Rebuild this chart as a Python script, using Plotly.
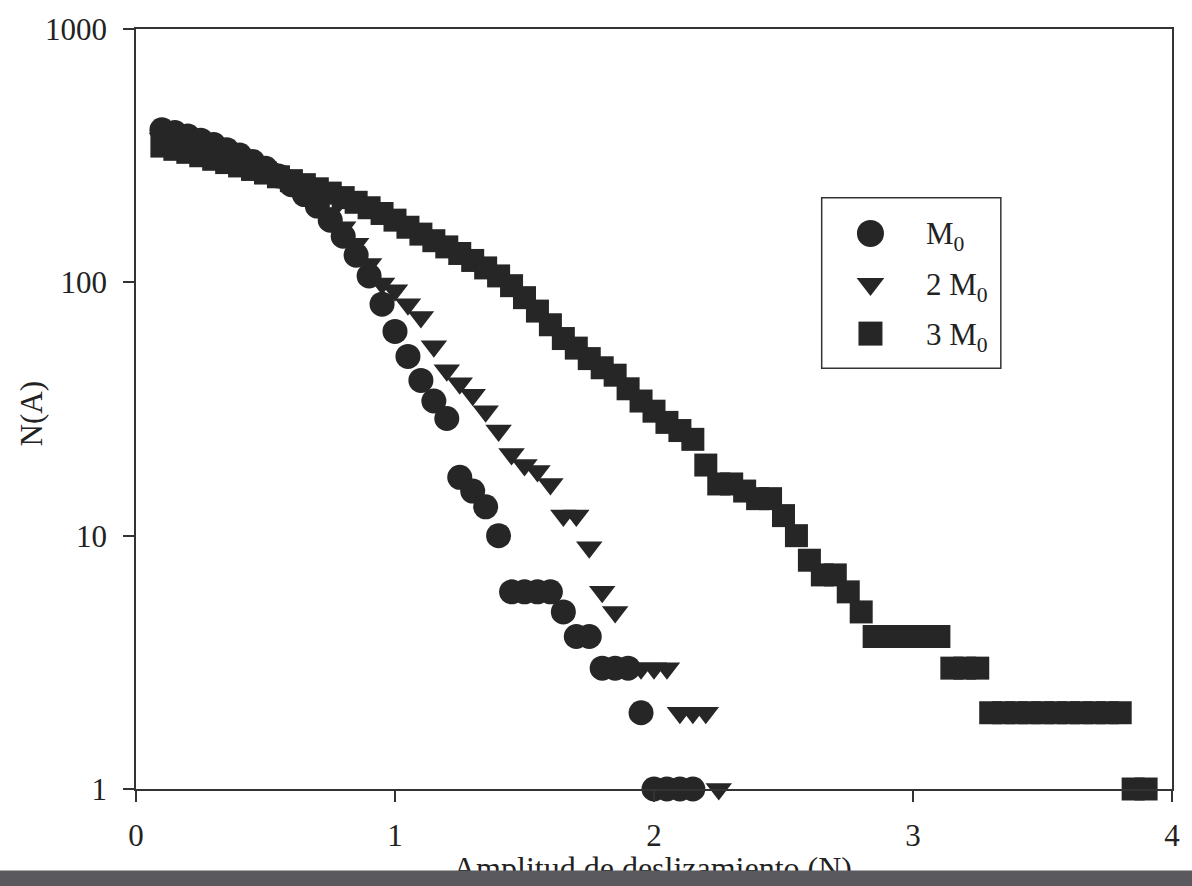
import plotly.graph_objects as go

# ---------------- data ----------------
x_m0 = [0.10, 0.15, 0.20, 0.25, 0.30, 0.35, 0.40, 0.45, 0.50, 0.55,
        0.60, 0.65, 0.70, 0.75, 0.80, 0.85, 0.90, 0.95, 1.00, 1.05,
        1.10, 1.15, 1.20, 1.25, 1.30, 1.35, 1.40, 1.45, 1.50, 1.55,
        1.60, 1.65, 1.70, 1.75, 1.80, 1.85, 1.90, 1.95, 2.00, 2.05,
        2.10, 2.15]
n_m0 = [400, 390, 378, 364, 350, 334, 318, 300, 282, 263,
        243, 222, 200, 176, 152, 128, 106, 82, 64, 51,
        41, 34, 29, 17, 15, 13, 10, 6, 6, 6,
        6, 5, 4, 4, 3, 3, 3, 2, 1, 1,
        1, 1]

x_2m0 = [0.10, 0.15, 0.20, 0.25, 0.30, 0.35, 0.40, 0.45, 0.50, 0.55,
         0.60, 0.65, 0.70, 0.75, 0.80, 0.85, 0.90, 0.95, 1.00, 1.05,
         1.10, 1.15, 1.20, 1.25, 1.30, 1.35, 1.40, 1.45, 1.50, 1.55,
         1.60, 1.65, 1.70, 1.75, 1.80, 1.85, 1.90, 1.95, 2.00, 2.05,
         2.10, 2.15, 2.20, 2.25]
n_2m0 = [370, 362, 353, 343, 333, 322, 310, 296, 281, 265,
         248, 230, 210, 188, 165, 142, 118, 99, 93, 82,
         73, 56, 45, 40, 36, 31, 26, 21, 19, 18,
         16, 12, 12, 9, 6, 5, 3, 3, 3, 3,
         2, 2, 2, 1]

x_3m0 = [0.10, 0.15, 0.20, 0.25, 0.30, 0.35, 0.40, 0.45, 0.50, 0.55,
         0.60, 0.65, 0.70, 0.75, 0.80, 0.85, 0.90, 0.95, 1.00, 1.05,
         1.10, 1.15, 1.20, 1.25, 1.30, 1.35, 1.40, 1.45, 1.50, 1.55,
         1.60, 1.65, 1.70, 1.75, 1.80, 1.85, 1.90, 1.95, 2.00, 2.05,
         2.10, 2.15, 2.20, 2.25, 2.30, 2.35, 2.40, 2.45, 2.50, 2.55,
         2.60, 2.65, 2.70, 2.75, 2.80, 2.85, 2.90, 2.95, 3.00, 3.05,
         3.10, 3.15, 3.20, 3.25, 3.30, 3.35, 3.40, 3.45, 3.50, 3.55,
         3.60, 3.65, 3.70, 3.75, 3.80, 3.85, 3.90]
n_3m0 = [345, 335, 326, 316, 306, 297, 288, 279, 270, 261,
         252, 243, 234, 225, 216, 207, 197, 187, 176, 165,
         155, 146, 138, 130, 122, 114, 106, 97, 87, 77,
         68, 60, 55, 50, 46, 43, 38, 34, 31, 28,
         26, 24, 19, 16, 16, 15, 14, 14, 12, 10,
         8, 7, 7, 6, 5, 4, 4, 4, 4, 4,
         4, 3, 3, 3, 2, 2, 2, 2, 2, 2,
         2, 2, 2, 2, 2, 1, 1]

series_names = ["M<sub>0</sub>", "2 M<sub>0</sub>", "3 M<sub>0</sub>"]
x_ticks = [0, 1, 2, 3, 4]
x_ticktext = ["0", "1", "2", "3", "4"]
y_ticks = [1, 10, 100, 1000]
y_ticktext = ["1", "10", "100", "1000"]
x_title = "Amplitud de deslizamiento (N)"
y_title = "N(A)"

# ---------------- style ----------------
W, H = 1192, 886
L, R, T, B = 136, 15, 23, 97
PW, PH = W - L - R, H - T - B
FONT = "Liberation Serif"
INK = "#262626"
TXT = "#222222"
AX = "#333333"
FS = 31


def px_x(p):
    return (p - L) / PW


def px_y(p):
    return (H - B - p) / PH


fig = go.Figure()
symbols = ["circle", "triangle-down", "square"]
sizes = [25, 23, 23]
data = [(x_m0, n_m0), (x_2m0, n_2m0), (x_3m0, n_3m0)]
for (xs, ys), sym, sz, nm in zip(data, symbols, sizes, series_names):
    fig.add_trace(go.Scatter(
        x=xs, y=ys, mode="markers", name=nm, showlegend=False,
        marker=dict(symbol=sym, size=sz, color=INK, line=dict(width=0)),
        cliponaxis=False,
    ))

# custom legend (key markers on an overlay pixel axis)
leg_key_x = 874
leg_key_y = [229, 280, 330]
leg_key_size = [27, 24, 24]
for sym, sz, ky, nm in zip(symbols, leg_key_size, leg_key_y, series_names):
    fig.add_trace(go.Scatter(
        x=[leg_key_x - L], y=[H - B - ky], xaxis="x2", yaxis="y2",
        mode="markers", showlegend=False, hoverinfo="skip",
        marker=dict(symbol=sym, size=sz, color=INK, line=dict(width=0)),
    ))

annotations = []
for ky, nm in zip(leg_key_y, series_names):
    annotations.append(dict(
        x=px_x(928), y=px_y(ky + 3), xref="paper", yref="paper",
        xanchor="left", yanchor="middle", showarrow=False, text=nm,
        font=dict(family=FONT, size=FS, color=TXT)))

# axis titles
annotations.append(dict(
    x=px_x(31), y=px_y(411), xref="paper", yref="paper", textangle=-90,
    xanchor="center", yanchor="middle", showarrow=False, text=y_title,
    font=dict(family=FONT, size=FS, color=TXT)))
annotations.append(dict(
    x=px_x(655), y=px_y(869), xref="paper", yref="paper",
    xanchor="center", yanchor="middle", showarrow=False, text=x_title,
    font=dict(family=FONT, size=FS + 1, color=TXT)))
# dark scan band at the bottom edge
annotations.append(dict(
    x=0.5, y=px_y(871), xref="paper", yref="paper",
    xanchor="center", yanchor="top", showarrow=False, text=" ",
    width=1500, height=40, borderpad=0, bgcolor="#5a5a5e",
    font=dict(size=4)))

shapes = [dict(
    type="rect", xref="paper", yref="paper",
    x0=px_x(825), x1=px_x(1005), y0=px_y(365), y1=px_y(193),
    line=dict(color=AX, width=1.5), fillcolor="rgba(0,0,0,0)", layer="above")]

axis_common = dict(
    showline=True, linecolor=AX, linewidth=1.5, mirror=True,
    ticks="outside", ticklen=11, tickwidth=1.5, tickcolor=AX,
    showgrid=False, zeroline=False,
    tickfont=dict(family=FONT, size=FS, color=TXT),
)

fig.update_layout(
    width=W, height=H,
    margin=dict(l=L, r=R, t=T, b=B, pad=0),
    paper_bgcolor="white", plot_bgcolor="white",
    font=dict(family=FONT, size=FS, color=TXT),
    xaxis=dict(range=[0, 4], tickmode="array", tickvals=x_ticks,
               ticktext=x_ticktext, ticklabelstandoff=7, **axis_common),
    yaxis=dict(type="log", range=[0, 3], tickmode="array", tickvals=y_ticks,
               ticktext=y_ticktext, ticklabelstandoff=10, **axis_common),
    xaxis2=dict(overlaying="x", range=[0, PW], visible=False, fixedrange=True),
    yaxis2=dict(overlaying="y", range=[0, PH], visible=False, fixedrange=True),
    annotations=annotations,
    shapes=shapes,
    showlegend=False,
)

fig.write_html("out.html")
